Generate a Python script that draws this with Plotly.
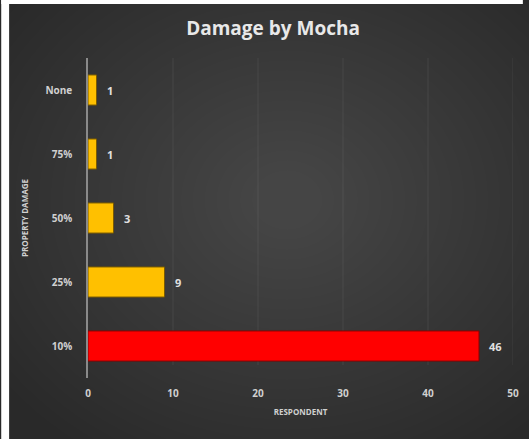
import plotly.graph_objects as go

# Property damage categories (bottom to top) and respondent counts
categories = ["10%", "25%", "50%", "75%", "None"]
respondents = [46, 9, 3, 1, 1]
bar_colors = ["#FF0000", "#FFC000", "#FFC000", "#FFC000", "#FFC000"]
line_colors = ["#8B0000", "#7A5A00", "#7A5A00", "#7A5A00", "#7A5A00"]
x_ticks = [0, 10, 20, 30, 40, 50]

W, H = 529, 439
L, R, T, B = 88, 10, 58, 61

fig = go.Figure(
    go.Bar(
        x=respondents,
        y=categories,
        orientation="h",
        width=0.47,
        marker=dict(color=bar_colors, line=dict(color=line_colors, width=1)),
        cliponaxis=False,
    )
)

# value labels just past the end of each bar
for cat, val in zip(categories, respondents):
    fig.add_annotation(
        x=val, y=cat, text=str(val), showarrow=False,
        xanchor="left", xshift=8,
        font=dict(family="Open Sans", size=11, color="#E0E0E0", weight="bold"),
    )

pw, ph = W - L - R, H - T - B


def px_x(v):
    return (v - L) / pw


def px_y(v):
    return (H - B - v) / ph


shapes = []
# soft radial light in the middle of the dark panel
cx, cy = 290, 200
n = 28
for i in range(n):
    rx = 360 - i * 12
    ry = 300 - i * 10
    shapes.append(dict(
        type="circle", xref="paper", yref="paper", layer="below",
        x0=px_x(cx - rx), x1=px_x(cx + rx), y0=px_y(cy + ry), y1=px_y(cy - ry),
        fillcolor="rgba(255,255,255,0.0075)", line=dict(width=0),
    ))
# faint vertical gridlines
for t in x_ticks[1:]:
    shapes.append(dict(type="line", xref="x", yref="paper", layer="below",
                       x0=t, x1=t, y0=px_y(365), y1=px_y(58),
                       line=dict(color="rgba(255,255,255,0.07)", width=1)))
# white frame strips on the left and top edges
shapes.append(dict(type="rect", xref="paper", yref="paper", layer="above",
                   x0=px_x(0), x1=px_x(8), y0=px_y(H), y1=px_y(0),
                   fillcolor="white", line=dict(width=0)))
shapes.append(dict(type="rect", xref="paper", yref="paper", layer="above",
                   x0=px_x(0), x1=px_x(W), y0=px_y(4), y1=px_y(0),
                   fillcolor="white", line=dict(width=0)))

fig.update_layout(
    width=W, height=H,
    margin=dict(l=L, r=R, t=T, b=B),
    paper_bgcolor="#292929",
    plot_bgcolor="rgba(0,0,0,0)",
    showlegend=False,
    shapes=shapes,
    title=dict(
        text="Damage by Mocha",
        x=273 / W, xref="container", xanchor="center",
        y=1 - 28 / H, yref="container", yanchor="middle",
        font=dict(family="Open Sans", size=19, color="#E8E8E8", weight="bold"),
    ),
    xaxis=dict(
        range=[0, 50],
        tickvals=x_ticks,
        ticktext=[str(t) for t in x_ticks],
        showgrid=False, zeroline=False, showline=False, ticks="",
        tickfont=dict(family="Open Sans", size=10, color="#D0D0D0", weight="bold"),
        ticklabelstandoff=8,
        title=dict(text="RESPONDENT", standoff=10,
                   font=dict(family="Open Sans", size=8, color="#D0D0D0", weight="bold")),
    ),
    yaxis=dict(
        categoryorder="array", categoryarray=categories,
        showgrid=False, zeroline=False,
        showline=True, linecolor="#8A8A8A", linewidth=1.5,
        ticks="", ticklabelstandoff=12,
        tickfont=dict(family="Open Sans", size=10, color="#D0D0D0", weight="bold"),
        title=dict(text="PROPERTY DAMAGE", standoff=16,
                   font=dict(family="Open Sans", size=8, color="#D0D0D0", weight="bold")),
    ),
)

# page behind the figure uses the panel colour
fig.write_html(
    "out.html",
    post_script="document.body.style.margin='0';document.body.style.background='#292929';",
)
